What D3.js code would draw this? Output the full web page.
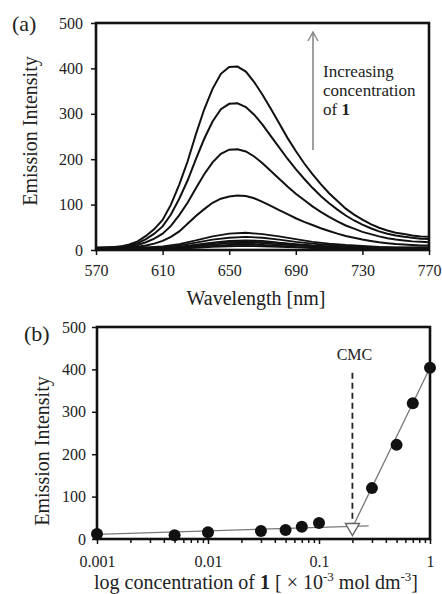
<!DOCTYPE html>
<html>
<head>
<meta charset="utf-8">
<script src="https://cdn.jsdelivr.net/npm/d3@7"></script>
<style>
body { margin: 0; background: #fff; }
svg text { font-family: "Liberation Serif", "Times New Roman", serif !important; fill: #222; }
</style>
</head>
<body>
<svg id="chart" width="442" height="594" font-family="Liberation Serif, serif"></svg>
<script>
// ---- panel (a): emission spectra ----
const waveA = [570, 575, 580, 585, 590, 595, 600, 605, 610, 615, 620, 625, 630, 635, 640, 645, 650, 655, 660, 665,
    670, 675, 680, 685, 690, 695, 700, 705, 710, 715, 720, 725, 730, 735, 740, 745, 750, 755, 760, 765, 770];
const spec1000 = [4, 5, 6, 8, 12, 19, 31, 46, 66, 100, 144, 195, 255, 310, 355, 388, 403, 404, 393, 370,
    342, 311, 279, 247, 218, 191, 167, 145, 125, 108, 91, 78, 67, 57, 49, 43, 38, 35, 32, 30, 29];
const spec700 = [4, 5, 6, 7, 10, 15, 24, 36, 52, 78, 113, 153, 200, 245, 283, 310, 322, 323, 315, 298,
    276, 251, 226, 201, 178, 157, 137, 119, 103, 89, 76, 65, 56, 48, 41, 36, 32, 29, 27, 25, 24];
const spec500 = [4, 4, 5, 6, 8, 11, 17, 25, 36, 53, 77, 104, 136, 167, 193, 212, 221, 222, 217, 206,
    191, 174, 157, 140, 124, 110, 96, 84, 73, 63, 54, 47, 40, 35, 30, 26, 23, 21, 19, 18, 17];
const spec300 = [3, 3, 4, 5, 6, 7, 10, 14, 20, 29, 41, 58, 75, 90, 104, 113, 118, 120, 119, 114,
    106, 97, 88, 79, 70, 62, 55, 48, 42, 36, 31, 27, 23, 20, 17, 15, 13, 12, 11, 10, 10];

// low concentrations, read at 10 nm steps
const waveLow = [570, 580, 590, 600, 610, 620, 630, 640, 650, 660, 670, 680, 690, 700, 710, 720, 730, 740, 750, 760, 770];
const spec100 = [6, 6, 6, 6, 8, 13, 21, 30, 36, 38, 35, 30, 24, 18, 14, 11, 9, 7, 6, 6, 6];
const spec070 = [5, 5, 5, 5, 6, 10, 16, 23, 27, 29, 27, 23, 18, 14, 11, 8, 7, 6, 5, 5, 5];
const spec050 = [4, 4, 4, 4, 5, 7, 12, 16, 20, 21, 20, 16, 13, 10, 8, 6, 5, 4, 4, 4, 4];
const spec030 = [4, 4, 4, 4, 4, 7, 10, 15, 18, 19, 18, 15, 12, 9, 7, 6, 5, 4, 4, 4, 4];
const spec010 = [3, 3, 3, 3, 4, 6, 9, 12, 15, 16, 15, 12, 10, 8, 6, 5, 4, 3, 3, 3, 3];
const spec001 = [3, 3, 3, 3, 3, 4, 7, 9, 11, 12, 11, 9, 7, 6, 5, 4, 3, 3, 3, 3, 3];
const spec005 = [2, 2, 2, 2, 3, 3, 5, 7, 8, 9, 8, 7, 6, 4, 4, 3, 2, 2, 2, 2, 2];

const xTicksA = [570, 610, 650, 690, 730, 770];
const yTicks = [0, 100, 200, 300, 400, 500];

// ---- panel (b): intensity vs concentration ----
const conc = [0.001, 0.005, 0.01, 0.03, 0.05, 0.07, 0.1, 0.3, 0.5, 0.7, 1];
const intensity = [12, 9, 16, 19, 21, 29, 38, 120, 222, 320, 404];
const lowFit = [[0.001, 11], [0.28, 31]];
const highFit = [[0.2, 27], [1, 404]];
const cmc = [0.2, 27];
const cmcLineTop = 392;
const xTicksB = [0.001, 0.01, 0.1, 1];

const SERIF = '"Liberation Serif", "Times New Roman", serif';
const svg = d3.select('#chart');

function frame(g, w, h) {
    g.append('rect')
        .attr('width', w).attr('height', h)
        .attr('fill', 'none').attr('stroke', '#111').attr('stroke-width', 2.6);
}

function styleAxis(sel) {
    sel.attr('font-family', null).attr('font-size', null);
    sel.select('.domain').remove();
    sel.selectAll('.tick line').attr('stroke', '#111').attr('stroke-width', 1.5);
    sel.selectAll('.tick text')
        .style('font-family', SERIF)
        .style('font-size', '16px').attr('fill', '#222');
}

// ===== (a) =====
const A = { left: 96, top: 23, w: 333, h: 227 };
const gA = svg.append('g').attr('transform', `translate(${A.left},${A.top})`);
const xA = d3.scaleLinear().domain([570, 770]).range([0, A.w]);
const yA = d3.scaleLinear().domain([0, 500]).range([A.h, 0]);

const lineA = d3.line().x(d => xA(d[0])).y(d => yA(d[1]));
const lowSet = [spec005, spec001, spec010, spec030, spec050, spec070, spec100];
lowSet.forEach(s => {
    gA.append('path')
        .datum(waveLow.map((w, i) => [w, s[i]]))
        .attr('d', lineA)
        .attr('fill', 'none').attr('stroke', '#111').attr('stroke-width', 1.8);
});
[spec300, spec500, spec700, spec1000].forEach(s => {
    gA.append('path')
        .datum(waveA.map((w, i) => [w, s[i]]))
        .attr('d', lineA)
        .attr('fill', 'none').attr('stroke', '#111').attr('stroke-width', 2);
});

gA.append('g').attr('transform', `translate(0,${A.h})`)
    .call(d3.axisBottom(xA).tickValues(xTicksA).tickSize(5).tickPadding(10))
    .call(styleAxis);
gA.append('g')
    .call(d3.axisLeft(yA).tickValues(yTicks).tickSize(5).tickPadding(8))
    .call(styleAxis);
frame(gA, A.w, A.h);

// arrow
const arrowX = 217;
gA.append('line').attr('x1', arrowX).attr('x2', arrowX).attr('y1', 10).attr('y2', 127)
    .attr('stroke', '#888').attr('stroke-width', 1.6);
gA.append('path').attr('d', `M${arrowX - 5},${18} L${arrowX},${9} L${arrowX + 5},${18}`)
    .attr('fill', 'none').attr('stroke', '#888').attr('stroke-width', 1.4);

const note = gA.append('text').attr('x', 227).attr('y', 54)
    .style('font-family', SERIF).style('font-size', '17px').attr('fill', '#333');
note.append('tspan').text('Increasing');
note.append('tspan').attr('x', 227).attr('dy', 19).text('concentration');
note.append('tspan').attr('x', 227).attr('dy', 19).text('of ');
note.append('tspan').style('font-weight', 'bold').text('1');

svg.append('text').attr('x', 12).attr('y', 31)
    .style('font-family', SERIF).style('font-size', '22px').text('(a)');
svg.append('text').attr('transform', 'translate(37,131) rotate(-90)')
    .attr('text-anchor', 'middle').style('font-family', SERIF).style('font-size', '20px').text('Emission Intensity');
svg.append('text').attr('x', 256).attr('y', 305)
    .attr('text-anchor', 'middle').style('font-family', SERIF).style('font-size', '20px').text('Wavelength [nm]');

// ===== (b) =====
const B = { left: 97, top: 327, w: 333, h: 212 };
const gB = svg.append('g').attr('transform', `translate(${B.left},${B.top})`);
const xB = d3.scaleLog().domain([0.001, 1]).range([0, B.w]);
const yB = d3.scaleLinear().domain([0, 500]).range([B.h, 0]);

const minorB = [];
[0.001, 0.01, 0.1].forEach(dec => [2, 3, 4, 5, 6, 7, 8, 9].forEach(k => minorB.push(dec * k)));
gB.append('g').attr('transform', `translate(0,${B.h})`)
    .call(d3.axisBottom(xB).tickValues(minorB).tickSize(4).tickFormat(''))
    .call(styleAxis);
gB.append('g').attr('transform', `translate(0,${B.h})`)
    .call(d3.axisBottom(xB).tickValues(xTicksB).tickSize(5).tickPadding(12).tickFormat(d3.format('')))
    .call(styleAxis);
gB.append('g')
    .call(d3.axisLeft(yB).tickValues(yTicks).tickSize(5).tickPadding(6))
    .call(styleAxis);

const lineB = d3.line().x(d => xB(d[0])).y(d => yB(d[1]));
gB.append('path').datum(lowFit).attr('d', lineB)
    .attr('fill', 'none').attr('stroke', '#777').attr('stroke-width', 1.3);
gB.append('path').datum(highFit).attr('d', lineB)
    .attr('fill', 'none').attr('stroke', '#777').attr('stroke-width', 1.3);

gB.append('line')
    .attr('x1', xB(cmc[0])).attr('x2', xB(cmc[0]))
    .attr('y1', yB(cmcLineTop)).attr('y2', yB(cmc[1]) - 4)
    .attr('stroke', '#222').attr('stroke-width', 1.8).attr('stroke-dasharray', '6,4');

gB.selectAll('circle.pt').data(conc).enter().append('circle')
    .attr('class', 'pt')
    .attr('cx', d => xB(d))
    .attr('cy', (d, i) => yB(intensity[i]))
    .attr('r', 6).attr('fill', '#111');

const tx = xB(cmc[0]), ty = yB(cmc[1]);
gB.append('path').attr('d', `M${tx - 7},${ty - 4} L${tx + 7},${ty - 4} L${tx},${ty + 8} Z`)
    .attr('fill', '#fff').attr('stroke', '#666').attr('stroke-width', 1.4);

frame(gB, B.w, B.h);

gB.append('text').attr('x', xB(cmc[0]) + 2).attr('y', 33)
    .attr('text-anchor', 'middle').style('font-family', SERIF).style('font-size', '16px').text('CMC');

svg.append('text').attr('x', 24).attr('y', 341)
    .style('font-family', SERIF).style('font-size', '22px').text('(b)');
svg.append('text').attr('transform', 'translate(49,451) rotate(-90)')
    .attr('text-anchor', 'middle').style('font-family', SERIF).style('font-size', '20px').text('Emission Intensity');

const xt = svg.append('text').attr('x', 256).attr('y', 589)
    .attr('text-anchor', 'middle').style('font-family', SERIF).style('font-size', '20px');
xt.append('tspan').text('log concentration of ');
xt.append('tspan').style('font-weight', 'bold').text('1');
xt.append('tspan').text(' [ \u00d7 10');
xt.append('tspan').attr('dy', -8).style('font-size', '13px').text('-3');
xt.append('tspan').attr('dy', 8).text(' mol dm');
xt.append('tspan').attr('dy', -8).style('font-size', '13px').text('-3');
xt.append('tspan').attr('dy', 8).text(']');
</script>
</body>
</html>
